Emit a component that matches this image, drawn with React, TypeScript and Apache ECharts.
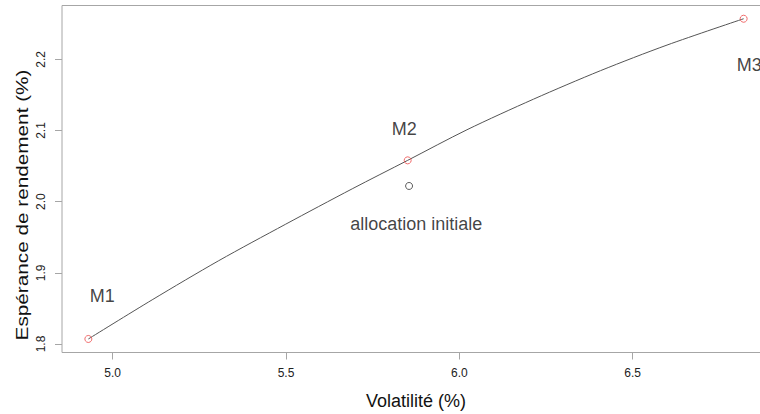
import React, { useEffect, useRef } from "react";
import * as echarts from "echarts";

// Efficient frontier (volatility %, expected return %)
const frontierVol = [4.930, 5.114, 5.306, 5.498, 5.691, 5.851, 6.022, 6.214, 6.407, 6.599, 6.820];
const frontierRet = [1.807, 1.862, 1.917, 1.968, 2.018, 2.058, 2.101, 2.144, 2.184, 2.220, 2.257];

// Marked portfolios
const portfolioNames = ["M1", "M2", "M3"];
const portfolioVol = [4.930, 5.851, 6.820];
const portfolioRet = [1.807, 2.058, 2.257];

// Initial allocation
const initialName = "allocation initiale";
const initialVol = [5.855];
const initialRet = [2.022];

// Label anchors (data coordinates)
const labelTexts = ["M1", "M2", "M3", "allocation initiale"];
const labelVol = [4.970, 5.841, 6.836, 5.876];
const labelRet = [1.868, 2.102, 2.192, 1.969];

// Axis ticks
const xTicks = [5.0, 5.5, 6.0, 6.5];
const yTicks = [1.8, 1.9, 2.0, 2.1, 2.2];
const xRange = [4.854, 6.896];
const yRange = [1.788, 2.2756];

const FONT = "'Liberation Sans', Arial, sans-serif";

export default function App() {
  const ref = useRef<HTMLDivElement>(null);

  useEffect(() => {
    if (!ref.current) return;
    const chart = echarts.init(ref.current, null, { renderer: "svg" });
    const axisGray = "#a6a6a6";
    chart.setOption({
      animation: false,
      backgroundColor: "#ffffff",
      textStyle: { fontFamily: FONT },
      grid: {
        left: 62,
        top: 5.5,
        width: 708,
        height: 347,
        containLabel: false,
        outerBoundsMode: "none",
        show: true,
        borderColor: axisGray,
        borderWidth: 1,
        backgroundColor: "transparent",
      },
      xAxis: {
        type: "value",
        min: xRange[0],
        max: xRange[1],
        name: "Volatilité (%)",
        nameLocation: "middle",
        nameGap: 39,
        nameTextStyle: { fontSize: 18, color: "#111", fontFamily: FONT },
        axisLine: { show: false },
        axisTick: {
          show: true,
          inside: false,
          length: 7,
          customValues: xTicks,
          lineStyle: { color: axisGray },
        },
        axisLabel: {
          customValues: xTicks,
          margin: 14,
          fontSize: 12,
          color: "#222",
          fontFamily: FONT,
          formatter: (v: number) => v.toFixed(1),
        },
        splitLine: { show: false },
      },
      yAxis: {
        type: "value",
        min: yRange[0],
        max: yRange[1],
        axisLine: { show: false },
        axisTick: {
          show: true,
          inside: false,
          length: 7,
          customValues: yTicks,
          lineStyle: { color: axisGray },
        },
        axisLabel: {
          customValues: yTicks,
          margin: 15,
          rotate: 90,
          fontSize: 12,
          color: "#222",
          fontFamily: FONT,
          formatter: (v: number) => v.toFixed(1),
        },
        splitLine: { show: false },
      },
      graphic: [
        {
          type: "text",
          x: 22,
          y: 205,
          rotation: Math.PI / 2,
          scaleX: 1.22,
          style: {
            text: "Espérance de rendement (%)",
            fontSize: 17,
            fontFamily: FONT,
            fill: "#111",
            align: "center",
            verticalAlign: "middle",
          },
        },
      ],
      series: [
        {
          name: "frontière",
          type: "line",
          data: frontierVol.map((v, i) => [v, frontierRet[i]]),
          smooth: 0.3,
          showSymbol: false,
          lineStyle: { color: "#555", width: 1 },
          silent: true,
          z: 1,
        },
        {
          name: "portefeuilles",
          type: "scatter",
          data: portfolioVol.map((v, i) => ({ name: portfolioNames[i], value: [v, portfolioRet[i]] })),
          symbol: "circle",
          symbolSize: 7,
          itemStyle: { color: "rgba(0,0,0,0)", borderColor: "#ee4a4a", borderWidth: 1 },
          z: 3,
        },
        {
          name: initialName,
          type: "scatter",
          data: initialVol.map((v, i) => [v, initialRet[i]]),
          symbol: "circle",
          symbolSize: 7,
          itemStyle: { color: "rgba(0,0,0,0)", borderColor: "#333", borderWidth: 1 },
          z: 3,
        },
        {
          name: "étiquettes",
          type: "scatter",
          data: labelTexts.map((t, i) => ({ name: t, value: [labelVol[i], labelRet[i]] })),
          symbolSize: 0,
          silent: true,
          label: {
            show: true,
            position: "inside",
            formatter: "{b}",
            fontSize: 18,
            color: "#111",
            fontFamily: FONT,
          },
          z: 4,
        },
      ],
    });
    return () => chart.dispose();
  }, []);

  return (
    <div
      ref={ref}
      style={{ position: "fixed", left: 0, top: 0, width: 760, height: 414 }}
    />
  );
}
